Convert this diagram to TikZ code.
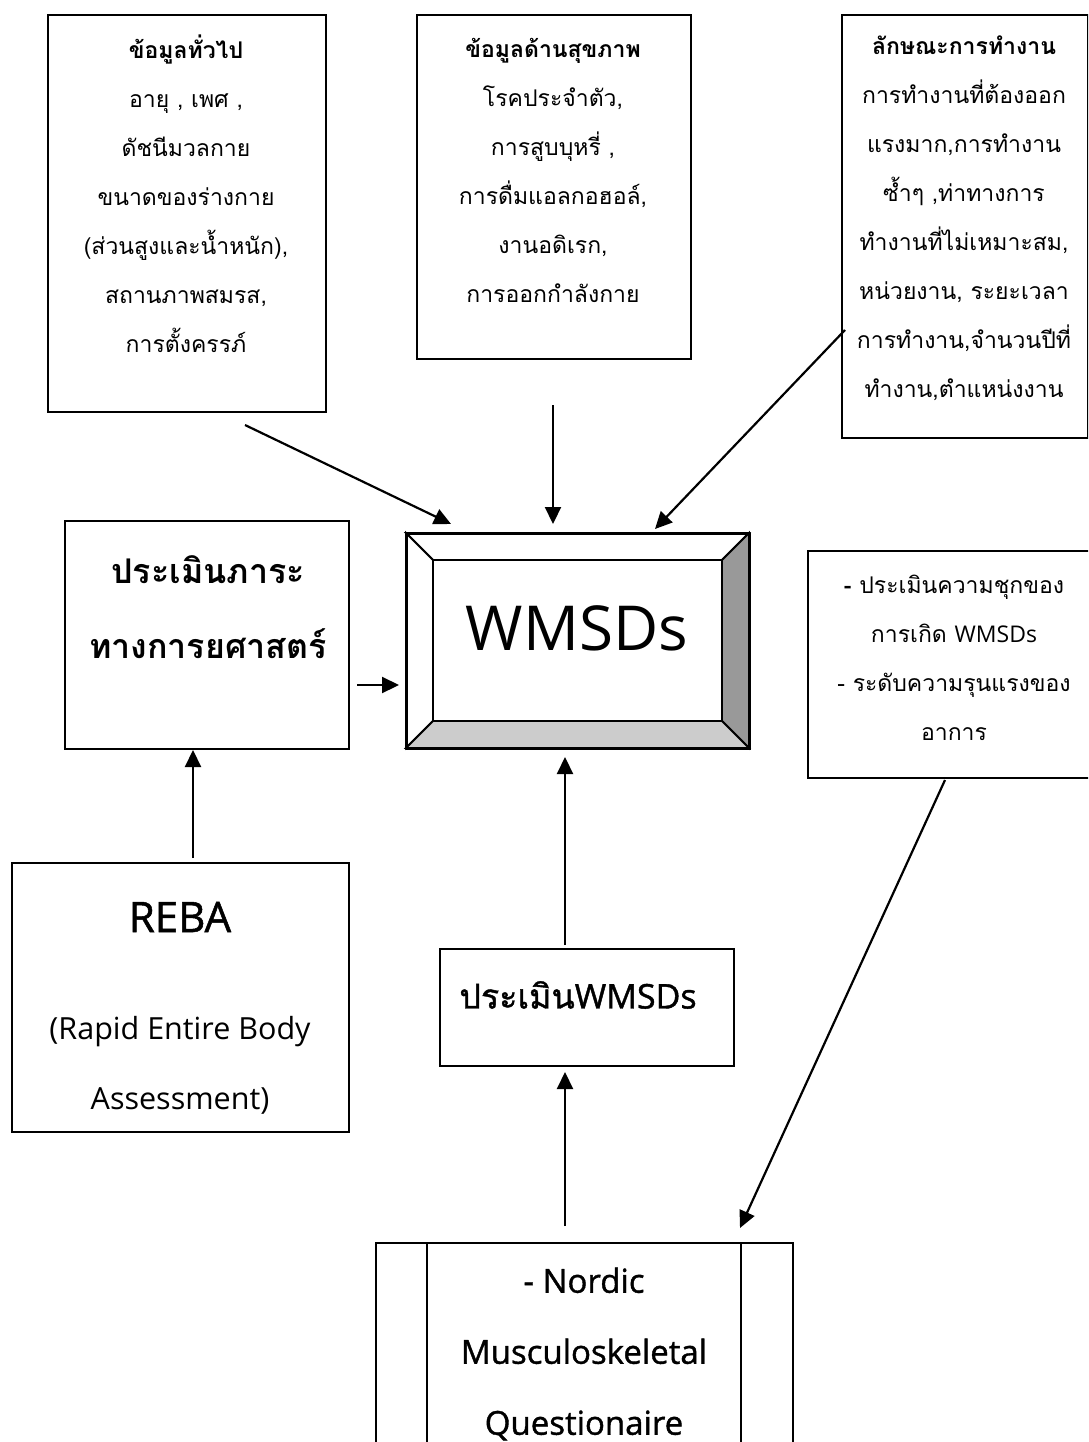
\documentclass[tikz,border=0pt]{standalone}
\usepackage{fontspec}
\setmainfont[Script=Thai]{Loma}
\newfontfamily\latf{Open Sans}
\newfontfamily\latsb[FakeBold=1.2]{Open Sans}
\newfontfamily\thsb[Script=Thai,FakeBold=1.2]{Loma}
\usetikzlibrary{arrows.meta}
\tikzset{
  box/.style={draw, line width=2.2pt, anchor=north west, inner sep=0pt},
  arr/.style={line width=2.2pt, -{Triangle[length=17pt,width=16pt]}},
  body/.style={align=center, font=\fontsize{23}{49}\selectfont, inner sep=0pt},
}
\begin{document}
\begin{tikzpicture}[x=1pt,y=-1pt]
\useasboundingbox (0,0) rectangle (1088,1442);
\clip (0,0) rectangle (1088,1442);
% top boxes
\node[box, minimum width=278pt, minimum height=397pt] (b1) at (47,14) {};
\node[box, minimum width=274pt, minimum height=344pt] (b2) at (416,14) {};
\node[box, minimum width=246pt, minimum height=423pt] (b3) at (841,14) {};
\node[body] (t1) at (186,194) {\textbf{ข้อมูลทั่วไป}\\อายุ , เพศ ,\\ดัชนีมวลกาย\\ขนาดของร่างกาย\\(ส่วนสูงและน้ำหนัก),\\สถานภาพสมรส,\\การตั้งครรภ์};
\node[body] (t2) at (553,170) {\textbf{ข้อมูลด้านสุขภาพ}\\โรคประจำตัว,\\การสูบบุหรี่ ,\\การดื่มแอลกอฮอล์,\\งานอดิเรก,\\การออกกำลังกาย};
\node[body] (t3) at (964,218) {\textbf{ลักษณะการทำงาน}\\การทำงานที่ต้องออก\\แรงมาก,การทำงาน\\ซ้ำๆ ,ท่าทางการ\\ทำงานที่ไม่เหมาะสม,\\หน่วยงาน, ระยะเวลา\\การทำงาน,จำนวนปีที่\\ทำงาน,ตำแหน่งงาน};
% ergonomic box
\node[box, minimum width=284pt, minimum height=228pt] (b4) at (64,520) {};
\node[align=center, font=\fontsize{34}{75}\selectfont\bfseries, inner sep=0pt] (t4) at (208,607) {ประเมินภาระ\\ทางการยศาสตร์};
% bevel WMSDs
\path[fill=white, draw, line width=1.8pt] (406,533) -- (749,533) -- (722,560) -- (433,560) -- cycle;
\path[fill=white, draw, line width=1.8pt] (406,533) -- (433,560) -- (433,721) -- (406,748) -- cycle;
\path[fill=black!40, draw, line width=1.8pt] (749,533) -- (749,748) -- (722,721) -- (722,560) -- cycle;
\path[fill=black!20, draw, line width=1.8pt] (406,748) -- (433,721) -- (722,721) -- (749,748) -- cycle;
\node[draw, line width=2.2pt, minimum width=343pt, minimum height=215pt, anchor=north west, inner sep=0pt] (wm) at (406,533) {};
\node[font=\latf\fontsize{62}{70}\selectfont, inner sep=0pt] (wmt) at (577,628) {WMSDs};
% right box
\node[box, minimum width=300pt, minimum height=227pt] (b5) at (807,550) {};
\node[body] (t5) at (954,658) {\textbf{-} ประเมินความชุกของ\\การเกิด {\latf WMSDs}\\- ระดับความรุนแรงของ\\อาการ};
% REBA
\node[box, minimum width=337pt, minimum height=269pt] (b6) at (11,862) {};
\node[font=\latsb\fontsize{42}{46}\selectfont, inner sep=0pt] (t6a) at (180,917) {REBA};
\node[align=center, font=\latf\fontsize{30.5}{70}\selectfont, inner sep=0pt] (t6b) at (180,1065) {(Rapid Entire Body\\Assessment)};
% assess WMSDs
\node[box, minimum width=294pt, minimum height=117pt] (b7) at (439,948) {};
\node[font=\fontsize{34}{40}\selectfont, inner sep=0pt] (t7) at (578,995) {{\thsb ประเมิน}{\latsb WMSDs}};
% Nordic
\node[box, minimum width=417pt, minimum height=300pt] (b8) at (375,1242) {};
\draw[line width=2pt] (427,1242) -- (427,1542);
\draw[line width=2pt] (741,1242) -- (741,1542);
\node[align=center, font=\latsb\fontsize{33}{71}\selectfont, inner sep=0pt] (t8) at (584,1354) {- Nordic\\Musculoskeletal\\Questionaire};
% arrows
\coordinate (a1s) at (245,425); \coordinate (a1e) at (451,524);
\coordinate (a2s) at (553,405); \coordinate (a2e) at (553,524);
\coordinate (a3s) at (845,330); \coordinate (a3e) at (655,529);
\coordinate (a4s) at (357,685); \coordinate (a4e) at (399,685);
\coordinate (a5s) at (193,858); \coordinate (a5e) at (193,750);
\coordinate (a6s) at (565,945); \coordinate (a6e) at (565,757);
\coordinate (a7s) at (565,1226); \coordinate (a7e) at (565,1072);
\coordinate (a8s) at (945,780); \coordinate (a8e) at (740,1228);
\draw[arr] (a1s) -- (a1e);
\draw[arr] (a2s) -- (a2e);
\draw[arr] (a3s) -- (a3e);
\draw[arr] (a4s) -- (a4e);
\draw[arr] (a5s) -- (a5e);
\draw[arr] (a6s) -- (a6e);
\draw[arr] (a7s) -- (a7e);
\draw[arr] (a8s) -- (a8e);
\end{tikzpicture}
\end{document}
